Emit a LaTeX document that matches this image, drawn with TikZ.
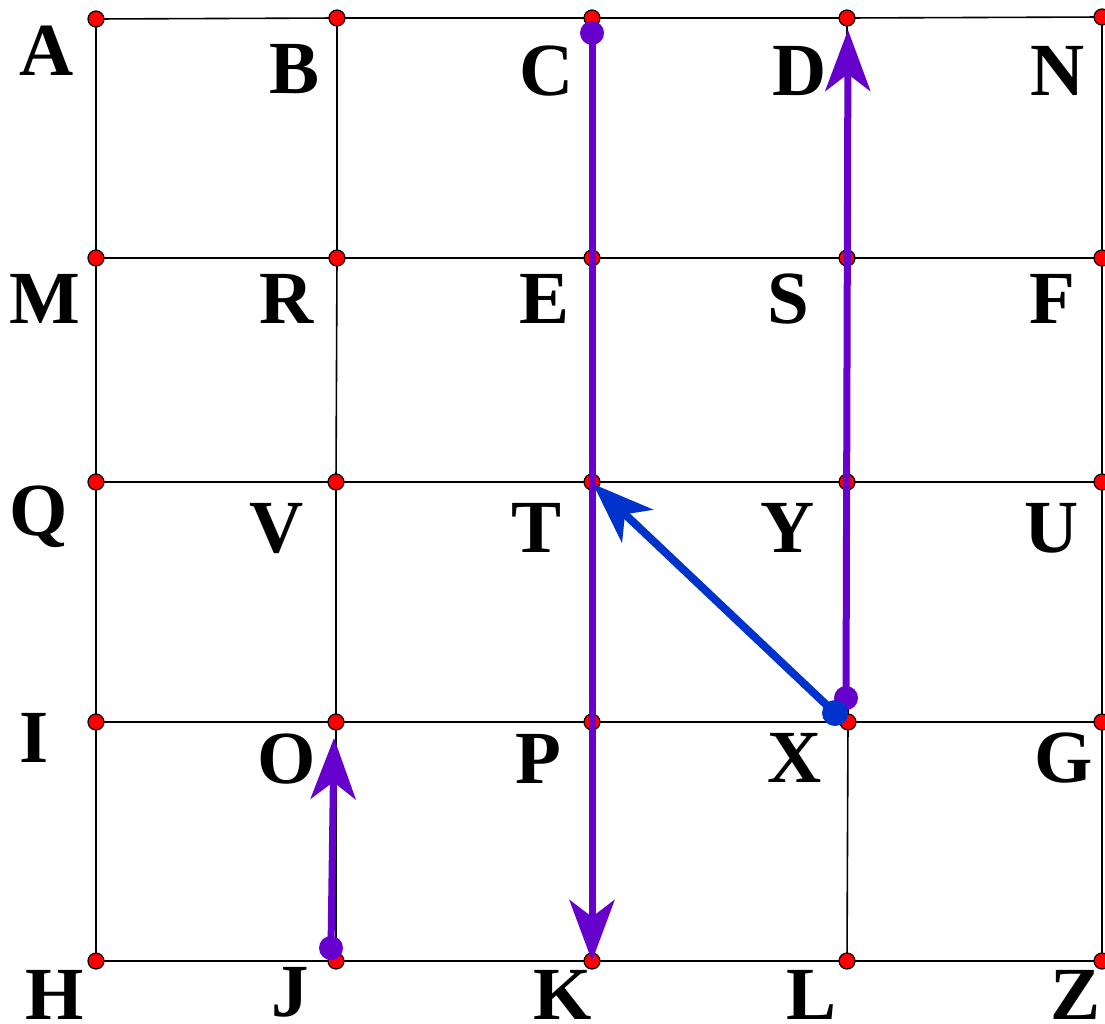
\documentclass[tikz,border=0pt]{standalone}
\usepackage{fontspec}
\setmainfont{Liberation Serif}
\usetikzlibrary{arrows.meta}
\definecolor{purp}{RGB}{102,0,204}
\definecolor{blu}{RGB}{0,51,204}
\begin{document}
\begin{tikzpicture}[x=1pt,y=-1pt,
  gridline/.style={draw=black,line width=1.6pt},
  ptdot/.style={circle,fill=red,draw=black,line width=1.2pt,inner sep=0pt,minimum size=16pt},
  lbl/.style={anchor=base,font=\fontsize{75}{80}\selectfont\bfseries,inner sep=0pt},
  purpvec/.style={draw=purp,line width=7pt,-{Stealth[length=61pt,width=45pt,inset=17pt]}},
  bluvec/.style={draw=blu,line width=8pt,-{Stealth[length=61pt,width=45pt,inset=17pt]}},
  purpdot/.style={circle,fill=purp,inner sep=0pt,minimum size=24pt},
  bludot/.style={circle,fill=blu,inner sep=0pt,minimum size=26pt}]
\useasboundingbox (0,0) rectangle (1105,1023);
\clip (0,0) rectangle (1105,1023);
\fill[white] (0,0) rectangle (1105,1023);
% grid points
\coordinate (A) at (96,19);  \coordinate (B) at (337,18); \coordinate (C) at (592,18); \coordinate (D) at (847,18); \coordinate (N) at (1102,17);
\coordinate (M) at (96,258); \coordinate (R) at (337,258); \coordinate (E) at (592,258); \coordinate (S) at (847,258); \coordinate (F) at (1102,258);
\coordinate (Q) at (96,482); \coordinate (V) at (336,482); \coordinate (T) at (592,482); \coordinate (Y) at (847,482); \coordinate (U) at (1102,482);
\coordinate (I) at (96,722); \coordinate (O) at (336,722); \coordinate (P) at (592,722); \coordinate (X) at (848,722); \coordinate (G) at (1102,722);
\coordinate (H) at (96,961); \coordinate (J) at (336,961); \coordinate (K) at (592,961); \coordinate (L) at (847,961); \coordinate (Z) at (1102,961);
% grid lines
\draw[gridline] (A) -- (B) -- (C) -- (D) -- (N);
\draw[gridline] (M) -- (R) -- (E) -- (S) -- (F);
\draw[gridline] (Q) -- (V) -- (T) -- (Y) -- (U);
\draw[gridline] (I) -- (O) -- (P) -- (X) -- (G);
\draw[gridline] (H) -- (J) -- (K) -- (L) -- (Z);
\draw[gridline] (A) -- (M) -- (Q) -- (I) -- (H);
\draw[gridline] (B) -- (R) -- (V) -- (O) -- (J);
\draw[gridline] (C) -- (E) -- (T) -- (P) -- (K);
\draw[gridline] (D) -- (S) -- (Y) -- (X) -- (L);
\draw[gridline] (N) -- (F) -- (U) -- (G) -- (Z);
% red points
\foreach \p in {A,B,C,D,N,M,R,E,S,F,Q,V,T,Y,U,I,O,P,X,G,H,J,K,L,Z}
  \node[ptdot] (d\p) at (\p) {};
% labels
\node[lbl] (lA) at (47,75) {A};
\node[lbl] (lB) at (295,93) {B};
\node[lbl] (lC) at (547,95) {C};
\node[lbl] (lD) at (800,95) {D};
\node[lbl] (lN) at (1058,95) {N};
\node[lbl] (lM) at (45,323) {M};
\node[lbl] (lR) at (287,323) {R};
\node[lbl] (lE) at (545,323) {E};
\node[lbl] (lS) at (788,323) {S};
\node[lbl] (lF) at (1052,323) {F};
\node[lbl] (lQ) at (39,535) {Q};
\node[lbl] (lV) at (277,552) {V};
\node[lbl] (lT) at (537,552) {T};
\node[lbl] (lY) at (788,552) {Y};
\node[lbl] (lU) at (1052,552) {U};
\node[lbl] (lI) at (34,762) {I};
\node[lbl] (lO) at (287,783) {O};
\node[lbl] (lP) at (538,783) {P};
\node[lbl] (lX) at (795,782) {X};
\node[lbl] (lG) at (1064,782) {G};
\node[lbl] (lH) at (55,1019) {H};
\node[lbl] (lJ) at (290,1016) {J};
\node[lbl] (lK) at (563,1019) {K};
\node[lbl] (lL) at (812,1019) {L};
\node[lbl] (lZ) at (1075,1019) {Z};
% vectors
\coordinate (cs) at (592,33);
\coordinate (ds) at (846,698);
\coordinate (dt) at (848,30);
\coordinate (js) at (331,948);
\coordinate (jt) at (334,738);
\coordinate (xs) at (835,713);
\coordinate (tt) at (593,484);
\draw[purpvec] (cs) -- (K);
\draw[purpvec] (ds) -- (dt);
\draw[purpvec] (js) -- (jt);
\node[purpdot] (pc) at (cs) {};
\node[purpdot] (pd) at (ds) {};
\node[purpdot] (pj) at (js) {};
\draw[bluvec] (xs) -- (tt);
\node[bludot] (bx) at (xs) {};
\end{tikzpicture}
\end{document}
